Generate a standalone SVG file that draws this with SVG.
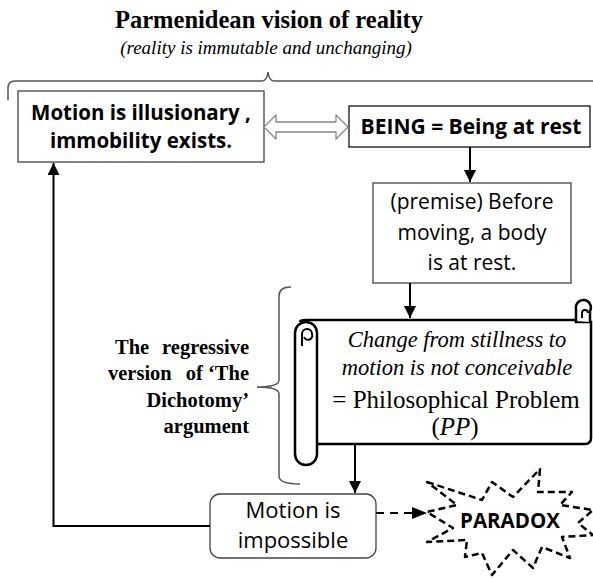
<svg xmlns="http://www.w3.org/2000/svg" width="593" height="578" viewBox="0 0 593 578">
<style>
.box{fill:#fff;stroke:#444;stroke-width:1.3}
.bx{font-family:"Open Sans","Liberation Sans",sans-serif;fill:#000;text-anchor:middle}
.b{font-weight:bold}
.conn{fill:none;stroke:#000;stroke-width:2}
.brace{fill:none;stroke:#555;stroke-width:1.5}
.ser{font-family:"Liberation Serif",serif;fill:#000}
.lt{font-size:20.5px}
</style>
<defs>
<marker id="ah" viewBox="0 0 10 10" refX="10" refY="5" markerWidth="6" markerHeight="6" markerUnits="strokeWidth" orient="auto">
<path d="M0,0 L10,5 L0,10 Z" fill="#000"/>
</marker>
</defs>
<rect width="593" height="578" fill="#fff"/>
<g id="title">
<text class="ser" x="269" y="28" font-size="25" font-weight="bold" text-anchor="middle" textLength="308" lengthAdjust="spacingAndGlyphs">Parmenidean vision of reality</text>
<text class="ser" x="266" y="54" font-size="19" font-style="italic" text-anchor="middle" fill="#222">(reality  is immutable and unchanging)</text>
<path class="brace" d="M8,100 L8,88 Q8,81 15,81 L262,81 Q267,81 268,72 Q269,81 274,81 L593,81"/>
</g>
<g id="illusionary">
<rect class="box" x="18" y="91" width="246" height="71"/>
<text class="bx b" x="141" y="120" font-size="20.5">Motion is illusionary ,</text>
<text class="bx b" x="141" y="148" font-size="20.5">immobility exists.</text>
</g>
<g id="being">
<rect class="box" x="349" y="106" width="241" height="41" style="stroke:#111"/>
<text class="bx b" x="471" y="134" font-size="21">BEING = Being at rest</text>
</g>
<g id="premise">
<rect class="box" x="373" y="183" width="198" height="100"/>
<text class="bx" x="472" y="209" font-size="21">(premise) Before</text>
<text class="bx" x="472" y="240" font-size="21">moving, a body</text>
<text class="bx" x="472" y="270" font-size="21">is at rest.</text>
</g>
<g id="problem">
<path d="M300,322 Q300,320 306,320 L576,320 L576,322 L591,322 L591,438 Q591,444 585,444 L317,444" fill="#fff" stroke="#000" stroke-width="2.5"/>
<path d="M576,321 L576,309 A7.5,7.5 0 1 1 590,311 L590,322" fill="#fff" stroke="#000" stroke-width="2.5"/>
<path d="M582,318 L582,313 A3,3 0 1 1 588,313" fill="none" stroke="#000" stroke-width="2"/>
<path d="M295,333 A11,11 0 0 1 317,333 L317,454 A11,11 0 0 1 295,454 Z" fill="#fff" stroke="#000" stroke-width="2.5"/>
<path d="M302,346 L302,334 A5,5 0 0 1 312,334 A4,4 0 0 1 304,337" fill="none" stroke="#000" stroke-width="2"/>
<text class="ser" x="457" y="347" font-size="22.5" font-style="italic" text-anchor="middle" fill="#222">Change from stillness to</text>
<text class="ser" x="457" y="375" font-size="22.5" font-style="italic" text-anchor="middle" fill="#222">motion is not conceivable</text>
<text class="ser" x="456" y="408" font-size="25" text-anchor="middle">= Philosophical Problem</text>
<text class="ser" x="455" y="435" font-size="25" text-anchor="middle">(<tspan font-style="italic">PP</tspan>)</text>
</g>
<g id="dichotomy">
<path class="brace" d="M291,287 Q279,287 279,296 L279,380 Q279,387 257,387 Q279,387 279,394 L279,476 Q279,484 300,484"/>
<text class="ser b lt" x="115" y="354">The</text>
<text class="ser b lt" x="249" y="354" text-anchor="end">regressive</text>
<text class="ser b lt" x="108" y="380">version</text>
<text class="ser b lt" x="249" y="380" text-anchor="end">of ‘The</text>
<text class="ser b lt" x="249" y="407" text-anchor="end">Dichotomy’</text>
<text class="ser b lt" x="249" y="433" text-anchor="end">argument</text>
</g>
<g id="impossible">
<rect class="box" x="210" y="494" width="166" height="64" rx="10"/>
<text class="bx" x="293" y="518" font-size="22">Motion is</text>
<text class="bx" x="293" y="548" font-size="22">impossible</text>
</g>
<g id="paradox">
<path d="M427,482 L482,500 L492,482 L513,497 L540,469 L538,492 L572,492 L560,505 L593,510 L578,523 L593,535 L562,537 L570,558 L542,547 L533,568 L513,550 L492,575 L482,553 L465,557 L467,540 L427,542 L453,528 L427,512 L457,505 Z" fill="#fff" stroke="#000" stroke-width="2.5" stroke-dasharray="7,4" stroke-linejoin="round"/>
<text class="bx b" x="510" y="528" font-size="20.5">PARADOX</text>
</g>
<g id="connectors">
<path d="M264,127 L276,115 L276,122 L336,122 L336,115 L348,127 L336,139 L336,132 L276,132 L276,139 Z" fill="#fff" stroke="#888" stroke-width="1.3" stroke-linejoin="round"/>
<path class="conn" d="M470,147 L470,182" marker-end="url(#ah)"/>
<path class="conn" d="M410,283 L410,318" marker-end="url(#ah)"/>
<path class="conn" d="M355,444 L355,493" marker-end="url(#ah)"/>
<path class="conn" d="M210,526 L53.5,526 L53.5,163" marker-end="url(#ah)"/>
<path class="conn" d="M376,513 L412,513" stroke-dasharray="8,6" stroke-width="2.5"/>
<path d="M412,507 L427,513 L412,519 Z" fill="#000"/>
</g>
</svg>
